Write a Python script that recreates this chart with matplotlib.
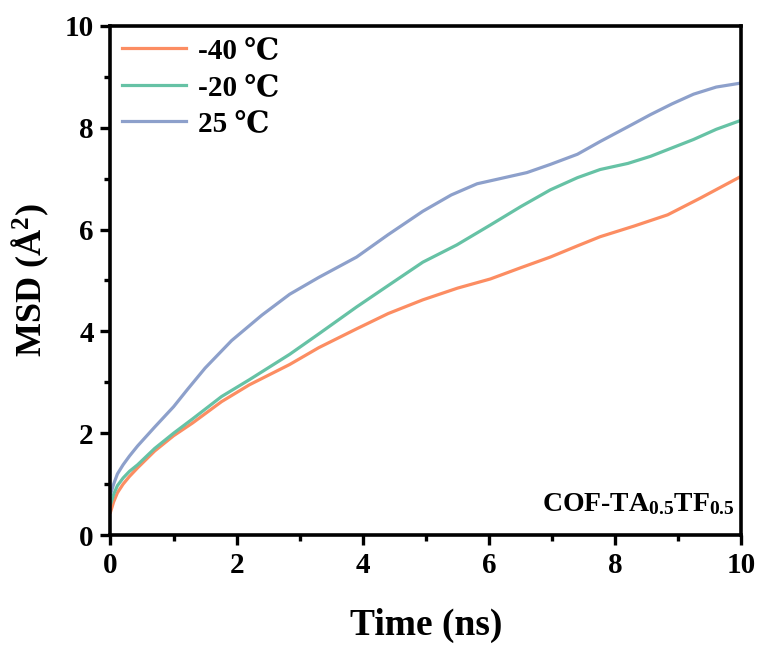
import matplotlib
matplotlib.use("Agg")
import matplotlib.pyplot as plt
from matplotlib.ticker import MultipleLocator

t_m40 = [0, 0.05, 0.11, 0.2, 0.3, 0.43, 0.7, 1.0, 1.3, 1.76, 2.2, 2.84, 3.3, 3.9, 4.4, 4.95, 5.5, 6.02, 6.5, 6.97, 7.4, 7.76, 8.3, 8.83, 9.35, 10]
msd_m40 = [0.45, 0.65, 0.83, 1.0, 1.15, 1.32, 1.65, 1.95, 2.2, 2.62, 2.95, 3.35, 3.68, 4.05, 4.35, 4.62, 4.85, 5.03, 5.25, 5.46, 5.68, 5.86, 6.07, 6.29, 6.62, 7.05]

t_m20 = [0, 0.05, 0.11, 0.2, 0.3, 0.43, 0.7, 1.0, 1.3, 1.76, 2.2, 2.84, 3.3, 3.9, 4.4, 4.95, 5.49, 6.02, 6.5, 6.97, 7.4, 7.76, 8.2, 8.56, 9.24, 9.6, 10]
msd_m20 = [0.6, 0.8, 0.97, 1.12, 1.25, 1.38, 1.7, 2.0, 2.28, 2.72, 3.05, 3.55, 3.95, 4.48, 4.9, 5.36, 5.7, 6.09, 6.45, 6.78, 7.02, 7.18, 7.3, 7.44, 7.77, 7.97, 8.15]

t_25 = [0, 0.05, 0.11, 0.2, 0.3, 0.43, 0.7, 1.0, 1.22, 1.5, 1.92, 2.4, 2.84, 3.3, 3.9, 4.4, 4.95, 5.4, 5.81, 6.17, 6.6, 6.97, 7.4, 7.76, 8.2, 8.56, 8.9, 9.24, 9.6, 10]
msd_25 = [0.8, 1.0, 1.2, 1.38, 1.55, 1.75, 2.12, 2.52, 2.86, 3.28, 3.82, 4.32, 4.73, 5.06, 5.46, 5.9, 6.36, 6.68, 6.9, 7.0, 7.12, 7.28, 7.48, 7.73, 8.02, 8.26, 8.47, 8.66, 8.8, 8.88]

labels = ["-40 \u2103", "-20 \u2103", "25 \u2103"]
colors = ["#FC8D62", "#66C2A5", "#8DA0CB"]
x_ticks = [0, 2, 4, 6, 8, 10]
y_ticks = [0, 2, 4, 6, 8, 10]

plt.rcParams['font.family'] = ['Liberation Serif', 'DejaVu Serif']
plt.rcParams['font.weight'] = 'bold'
plt.rcParams['mathtext.fontset'] = 'custom'
plt.rcParams['mathtext.rm'] = 'Liberation Serif:bold'
plt.rcParams['mathtext.bf'] = 'Liberation Serif:bold'
plt.rcParams['mathtext.it'] = 'Liberation Serif:bold'

fig = plt.figure(figsize=(7.63, 6.46), dpi=100)
ax = fig.add_axes([0.1448, 0.1718, 0.827, 0.788])

for t, m, lab, c in zip([t_m40, t_m20, t_25], [msd_m40, msd_m20, msd_25], labels, colors):
    ax.plot(t, m, color=c, lw=2.3, label=lab)

ax.set_xlim(0, 10)
ax.set_ylim(0, 10)
ax.set_xticks(x_ticks)
ax.set_yticks(y_ticks)
ax.xaxis.set_minor_locator(MultipleLocator(1))
ax.yaxis.set_minor_locator(MultipleLocator(1))
for s in ax.spines.values():
    s.set_linewidth(2.6)
ax.tick_params(which='major', direction='out', length=7, width=2.4, labelsize=21, pad=5)
ax.tick_params(which='minor', direction='out', length=4, width=2.4)
for lbl in ax.get_xticklabels() + ax.get_yticklabels():
    lbl.set_fontweight('bold')

ax.set_xlabel("Time (ns)", fontsize=27, fontweight='bold', labelpad=21)
ax.set_ylabel("MSD (Å$^{2}$)", fontsize=26, fontweight='bold', labelpad=10)

leg = ax.legend(loc='upper left', frameon=False, handlelength=2.2,
                handletextpad=0.4, labelspacing=0.32, borderaxespad=0.1, borderpad=0.3,
                prop={'weight': 'bold', 'size': 21})

ax.text(0.99, 0.035, "COF-TA$_{0.5}$TF$_{0.5}$", transform=ax.transAxes,
        ha='right', va='bottom', fontsize=20, fontweight='bold')

fig.savefig("out.png", dpi=100)
